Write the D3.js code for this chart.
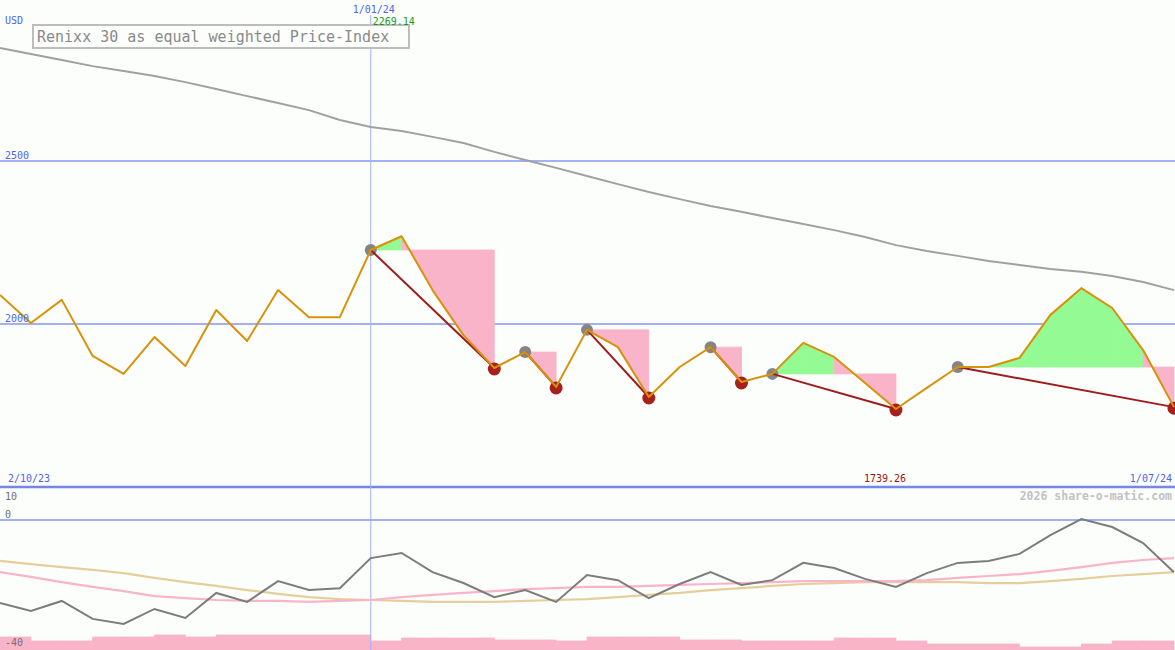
<!DOCTYPE html>
<html><head><meta charset="utf-8">
<script src="https://cdn.jsdelivr.net/npm/d3@7"></script>
<style>html,body{margin:0;padding:0;background:#fcfefc;overflow:hidden}
text{font-family:"DejaVu Sans Mono",monospace}</style>
</head><body><svg id="c" width="1175" height="650"></svg>
<script>
// ---- data (weekly) ----
const price = [2089, 2003, 2074, 1902, 1847, 1960, 1871, 2043, 1948, 2104, 2021, 2021, 2227, 2269.14, 2104, 1966, 1865, 1914, 1807, 1982, 1929, 1776, 1868, 1929, 1822, 1847, 1942, 1899, 1819, 1739.26, 1804, 1868, 1868, 1896, 2028, 2110, 2049, 1920, 1745];
const movingAvg = [2847, 2828, 2810, 2791, 2776, 2761, 2742, 2721, 2699, 2678, 2656, 2626, 2604, 2592, 2574, 2555, 2528, 2503, 2479, 2454, 2429, 2405, 2383, 2362, 2344, 2325, 2307, 2288, 2267, 2242, 2224, 2209, 2193, 2181, 2169, 2160, 2147, 2129, 2104];
const peaks = [12, 17, 19, 23, 25, 31];
const troughs = [16, 18, 21, 24, 29, 38];
const momentum = [-25.9, -28.4, -25.3, -30.9, -32.5, -27.8, -30.6, -22.8, -25.6, -19.1, -21.9, -21.3, -11.9, -10.3, -16.3, -19.7, -24.1, -21.9, -25.6, -17.2, -18.8, -24.4, -20.0, -16.3, -20.3, -18.8, -13.4, -15.0, -18.4, -20.9, -16.6, -13.4, -12.8, -10.6, -4.7, 0.3, -2.2, -7.2, -16.3];
const momentumFast = [-16.3, -17.8, -19.4, -20.9, -22.2, -23.8, -24.4, -25.0, -25.3, -25.3, -25.6, -25.3, -25.0, -24.1, -23.4, -22.8, -22.2, -21.6, -21.3, -20.9, -20.9, -20.6, -20.3, -20.0, -19.7, -19.4, -19.1, -19.1, -19.1, -19.1, -18.8, -18.1, -17.5, -16.9, -15.9, -14.7, -13.4, -12.5, -11.9];
const momentumSlow = [-12.8, -13.8, -14.7, -15.6, -16.6, -18.1, -19.4, -20.6, -21.9, -23.1, -24.1, -24.7, -25.0, -25.3, -25.6, -25.6, -25.6, -25.3, -25.0, -24.7, -24.1, -23.4, -22.8, -21.9, -21.3, -20.6, -20.0, -19.7, -19.4, -19.4, -19.4, -19.4, -19.7, -19.7, -19.1, -18.4, -17.5, -16.9, -16.3];
const volume = [13, 9, 9, 13, 13, 15, 13, 15, 15, 15, 15, 15, 9, 12, 12, 12, 10, 10, 9, 13, 13, 13, 10, 10, 9, 9, 9, 12, 12, 9, 6, 6, 6, 3, 3, 6, 9, 9];
const priceTicks = [2500, 2000];
const lowerTicks = [10, 0, -40];
const dateStart = "2/10/23", dateMark = "1/01/24", dateEnd = "1/07/24", markIndex = 12;
const title = "Renixx 30 as equal weighted Price-Index";

// ---- scales ----
const W = 1175, H = 650;
const x = d3.scaleLinear().domain([0, price.length - 1]).range([0, 1174]);
const y = d3.scaleLinear().domain([1500, 2500]).range([487, 161]);
const yl = d3.scaleLinear().domain([0, -40]).range([520, 648]);
const yv = d3.scaleLinear().domain([0, 100]).range([650, 550]);

const svg = d3.select("#c");
svg.append("rect").attr("width", W).attr("height", H).attr("fill", "#fcfefc");

const pink = "#f9b4c9", green = "#94fa94";

// volume bars
svg.append("g").selectAll("rect").data(volume).join("rect")
  .attr("x", (d, i) => x(i)).attr("width", (d, i) => Math.min(x(i + 1), W) - x(i))
  .attr("y", d => yv(d)).attr("height", d => 650 - yv(d)).attr("fill", pink)
  .attr("stroke", pink).attr("stroke-width", 0.8);

// grid lines
svg.append("g").selectAll("line").data(priceTicks).join("line")
  .attr("x1", 0).attr("x2", W).attr("y1", d => y(d)).attr("y2", d => y(d))
  .attr("stroke", "#a3b1f2").attr("stroke-width", 2);
svg.append("line").attr("x1", 0).attr("x2", W).attr("y1", y(1500)).attr("y2", y(1500))
  .attr("stroke", "#7585ea").attr("stroke-width", 2.5);
svg.append("line").attr("x1", 0).attr("x2", W).attr("y1", yl(0)).attr("y2", yl(0))
  .attr("stroke", "#a3b1f2").attr("stroke-width", 2);
svg.append("line").attr("x1", x(markIndex)).attr("x2", x(markIndex)).attr("y1", 15).attr("y2", H)
  .attr("stroke", "#a3b1f2").attr("stroke-width", 1);

// moving average
const line = d3.line().x((d, i) => x(i)).y(d => y(d));
svg.append("path").attr("d", line(movingAvg)).attr("fill", "none")
  .attr("stroke", "#a0a0a0").attr("stroke-width", 2);

// gain/loss fills
const fills = [];
peaks.forEach((p, k) => {
  const t = troughs[k], level = price[p];
  for (let i = p; i < t; i++) {
    fills.push({pts: [[x(i), y(level)], [x(i), y(price[i])], [x(i + 1), y(price[i + 1])], [x(i + 1), y(level)]],
      up: price[i + 1] > level});
  }
});
svg.append("g").selectAll("path").data(fills).join("path")
  .attr("d", d => "M" + d.pts.join("L") + "Z")
  .attr("fill", d => d.up ? green : pink)
  .attr("stroke", d => d.up ? green : pink).attr("stroke-width", 0.8);

// markers
svg.append("g").selectAll("circle").data(peaks).join("circle")
  .attr("cx", d => x(d)).attr("cy", d => y(price[d])).attr("r", 6).attr("fill", "#858585");
svg.append("g").selectAll("circle").data(troughs).join("circle")
  .attr("cx", d => x(d)).attr("cy", d => y(price[d]) + 1).attr("r", 6.5).attr("fill", "#a8201c");

// signal lines
svg.append("g").selectAll("line").data(peaks).join("line")
  .attr("x1", d => x(d)).attr("y1", d => y(price[d]))
  .attr("x2", (d, k) => x(troughs[k])).attr("y2", (d, k) => y(price[troughs[k]]))
  .attr("stroke", "#a01c1c").attr("stroke-width", 2);

// price line
svg.append("path").attr("d", line(price)).attr("fill", "none")
  .attr("stroke", "#d8920a").attr("stroke-width", 2).attr("stroke-linejoin", "round");

// lower panel lines
const lline = d3.line().x((d, i) => x(i)).y(d => yl(d));
svg.append("path").attr("d", lline(momentumSlow)).attr("fill", "none").attr("stroke", "#e4cf9c").attr("stroke-width", 2.2);
svg.append("path").attr("d", lline(momentumFast)).attr("fill", "none").attr("stroke", pink).attr("stroke-width", 2.2);
svg.append("path").attr("d", lline(momentum)).attr("fill", "none").attr("stroke", "#7c7c7c").attr("stroke-width", 2);

// title box
svg.append("rect").attr("x", 33).attr("y", 25).attr("width", 376).attr("height", 23)
  .attr("fill", "#fcfefc").attr("stroke", "#bdbdbd").attr("stroke-width", 2);
svg.append("text").attr("x", 37).attr("y", 42).attr("font-size", 15).attr("fill", "#8a8a8a").text(title);

// labels
const blue = "#4f63f0";
const T = (tx, ty, s, col, size, anchor, weight) => svg.append("text").attr("x", tx).attr("y", ty)
  .attr("font-size", size || 10).attr("fill", col).attr("text-anchor", anchor || "start")
  .attr("font-weight", weight || "normal").text(s);
T(5, 24, "USD", blue);
priceTicks.forEach(t => T(5, y(t) - 2, String(t), blue));
T(x(markIndex) - 18, 13, dateMark, blue);
T(x(markIndex) + 2, 25, d3.format(".2f")(d3.max(price)), "#1a9a1a");
T(8, 482, dateStart, blue);
T(W - 3, 482, dateEnd, blue, 10, "end");
const mi = d3.minIndex(price);
T(x(mi) - 32, 482, d3.format(".2f")(price[mi]), "#a01414");
T(W - 3, 500, "2026 share-o-matic.com", "#c2c2c2", 11.5, "end", "bold");
T(5, 500, String(lowerTicks[0]), "#707070");
T(5, 518, String(lowerTicks[1]), "#707070");
T(5, 646, String(lowerTicks[2]), "#707070");
</script></body></html>
